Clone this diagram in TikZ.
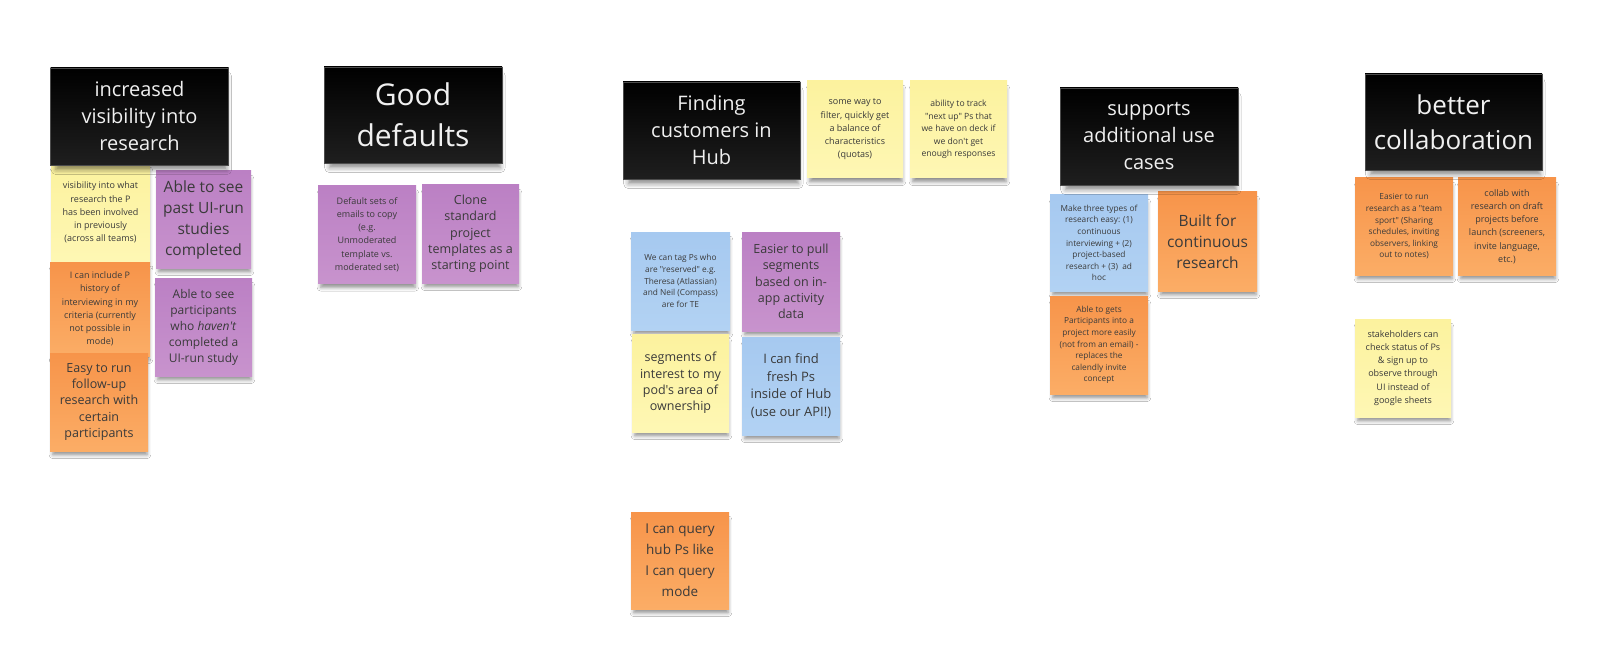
\documentclass[tikz,border=0pt]{standalone}
\usepackage{fontspec}
\setmainfont{Open Sans}[Ligatures=TeXOff]
\usetikzlibrary{shadows.blur}
\definecolor{ntext}{HTML}{3A3A3A}
\definecolor{yelA}{HTML}{FCF29E}
\definecolor{yelB}{HTML}{FEF7B4}
\definecolor{orA}{HTML}{F7944A}
\definecolor{orB}{HTML}{FBAD66}
\definecolor{puA}{HTML}{BB80C4}
\definecolor{puB}{HTML}{C893CD}
\definecolor{blA}{HTML}{A6C9F0}
\definecolor{blB}{HTML}{B2D2F3}
\tikzset{
  note/.style={minimum width=98pt, minimum height=98pt, inner sep=1pt, align=center, text=ntext,
    blur shadow={shadow xshift=1pt, shadow yshift=-6pt, shadow blur radius=4pt, shadow opacity=45, shadow scale=0.96}},
  ynote/.style={note, top color=yelA, bottom color=yelB},
  onote/.style={note, top color=orA, bottom color=orB},
  pnote/.style={note, top color=puA, bottom color=puB},
  bnote/.style={note, top color=blA, bottom color=blB},
  header/.style={minimum width=178pt, minimum height=97pt, inner sep=1pt, align=center, text=white!94!black,
    top color=black, bottom color=black!88!white, draw=black!70, line width=0.6pt,
    blur shadow={shadow xshift=2pt, shadow yshift=-7pt, shadow blur radius=5pt, shadow opacity=45, shadow scale=0.96}},
  fS/.style={font=\fontsize{9}{13.2}\selectfont},
  fX/.style={font=\fontsize{8.3}{11.6}\selectfont},
  fM/.style={font=\fontsize{12.5}{16.3}\selectfont},
  fL/.style={font=\fontsize{15.5}{21}\selectfont},
  fH/.style={font=\fontsize{20}{27}\selectfont},
}
\begin{document}
\begin{tikzpicture}[x=1pt, y=-1pt]
\fill[white] (0,0) rectangle (1600,655);
% group 1
\node[ynote, fS, minimum width=99pt, minimum height=99pt] (y1) at (100.5,212.5) {visibility into what\\research the P\\has been involved\\in previously\\(across all teams)};
\node[pnote, fL, minimum width=95pt, minimum height=97pt] (p1) at (203.5,219.5) {Able to see\\past UI-run\\studies\\completed};
\node[onote, fS, minimum width=100pt, minimum height=94pt] (o1) at (100,309) {I can include P\\history of\\interviewing in my\\criteria (currently\\not possible in\\mode)};
\node[onote, fM, minimum width=98pt, minimum height=98pt] (o2) at (99,402) {Easy to run\\follow-up\\research with\\certain\\participants};
\node[pnote, font=\fontsize{12}{16}\selectfont, minimum width=97pt, minimum height=98pt] (p2) at (203.5,327) {Able to see\\participants\\who \emph{haven't}\\completed a\\UI-run study};
\node[header, fH] (h1) at (139.5,116.5) {increased\\visibility into\\research};
% group 2
\node[pnote, fS] (p3) at (367,234.5) {Default sets of\\emails to copy\\(e.g.\\Unmoderated\\template vs.\\moderated set)};
\node[pnote, fM, minimum width=97pt] (p4) at (470.5,234) {Clone\\standard\\project\\templates as a\\starting point};
\node[header, font=\fontsize{30}{41}\selectfont, minimum height=96pt] (h2) at (413,115) {Good\\defaults};
% group 3
\node[ynote, fS, minimum width=96pt, minimum height=97pt] (y2) at (855,129.5) {some way to\\filter, quickly get\\a balance of\\characteristics\\(quotas)};
\node[ynote, font=\fontsize{8.6}{12.6}\selectfont, minimum width=97pt, minimum height=97pt] (y3) at (958.5,129.5) {ability to track\\"next up" Ps that\\we have on deck if\\we don't get\\enough responses};
\node[header, fH, minimum width=177pt] (h3) at (711.5,130.5) {Finding\\customers in\\Hub};
\node[bnote, fX, minimum width=99pt] (b1) at (680.5,281) {We can tag Ps who\\are "reserved" e.g.\\Theresa (Atlassian)\\and Neil (Compass)\\are for TE};
\node[pnote, fM, minimum height=99pt] (p5) at (791,281.5) {Easier to pull\\segments\\based on in-\\app activity\\data};
\node[ynote, fM, minimum width=97pt] (y4) at (680.5,383) {segments of\\interest to my\\pod's area of\\ownership};
\node[bnote, font=\fontsize{13}{17.5}\selectfont] (b2) at (791,386) {I can find\\fresh Ps\\inside of Hub\\(use our API!)};
\node[onote, font=\fontsize{13.5}{21}\selectfont, minimum height=97pt] (o3) at (680,560.5) {I can query\\hub Ps like\\I can query\\mode};
% group 4
\node[bnote, fX, minimum height=96pt] (b3) at (1099,243) {Make three types of\\research easy: (1)\\continuous\\interviewing + (2)\\project-based\\research + (3)\ \ ad\\hoc};
\node[onote, fL, minimum width=99pt, minimum height=99pt] (o4) at (1207.5,241.5) {Built for\\continuous\\research};
\node[onote, fX] (o5) at (1099,345) {Able to gets\\Participants into a\\project more easily\\(not from an email) -\\replaces the\\calendly invite\\concept};
\node[header, fH] (h4) at (1149,136.5) {supports\\additional use\\cases};
% group 5
\node[onote, fX, minimum height=97pt] (o6) at (1404,226.5) {Easier to run\\research as a "team\\sport" (Sharing\\schedules, inviting\\observers, linking\\out to notes)};
\node[onote, fS, minimum height=97pt] (o7) at (1507,226.5) {collab with\\research on draft\\projects before\\launch (screeners,\\invite language,\\etc.)};
\node[ynote, fS, minimum width=96pt] (y5) at (1403,368) {stakeholders can\\check status of Ps\\\& sign up to\\observe through\\UI instead of\\google sheets};
\node[header, font=\fontsize{26}{35}\selectfont, minimum width=177pt, minimum height=96pt] (h5) at (1453.5,122) {better\\collaboration};
\pgfresetboundingbox
\path[use as bounding box] (0,0) rectangle (1600,655);
\end{tikzpicture}
\end{document}
